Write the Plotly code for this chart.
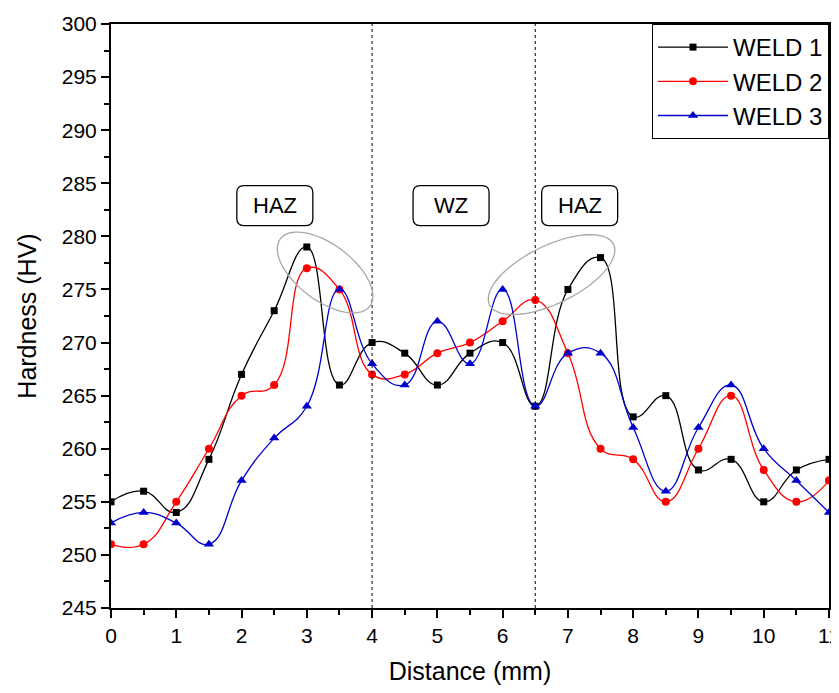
import math
import plotly.graph_objects as go

distance = [0, 0.5, 1, 1.5, 2, 2.5, 3, 3.5, 4, 4.5, 5, 5.5, 6, 6.5, 7, 7.5, 8, 8.5, 9, 9.5, 10, 10.5, 11]
weld1 = [255, 256, 254, 259, 267, 273, 279, 266, 270, 269, 266, 269, 270, 264, 275, 278, 263, 265, 258, 259, 255, 258, 259]
weld2 = [251, 251, 255, 260, 265, 266, 277, 275, 267, 267, 269, 270, 272, 274, 269, 260, 259, 255, 260, 265, 258, 255, 257]
weld3 = [253, 254, 253, 251, 257, 261, 264, 275, 268, 266, 272, 268, 275, 264, 269, 269, 262, 256, 262, 266, 260, 257, 254]

zone_bounds = [4, 6.5]
zone_labels = ["HAZ", "WZ", "HAZ"]
zone_label_x = [2.51, 5.21, 7.18]
zone_label_y = 282.9

# highlight ellipses: centre (data), semi-axes (px), tilt (deg)
ellipse_centres = [(3.28, 276.6), (6.75, 276.4)]
ellipse_axes = [(56, 28), (69, 29)]
ellipse_tilts = [-37, 26]

font_family = "Liberation Sans, Arial, sans-serif"

series = [
    ("WELD 1", weld1, "black", "square", 7),
    ("WELD 2", weld2, "red", "circle", 8),
    ("WELD 3", weld3, "#0000cc", "triangle-up", 9),
]

fig = go.Figure()
for name, vals, col, sym, sz in series:
    fig.add_trace(go.Scatter(
        x=distance, y=vals, name=name, mode="lines+markers",
        line=dict(color=col, width=1.3, shape="spline", smoothing=1.3),
        marker=dict(symbol=sym, size=sz, color=col),
    ))

shapes = []
for xb in zone_bounds:
    shapes.append(dict(type="line", xref="x", yref="y", x0=xb, x1=xb, y0=245, y1=300,
                       line=dict(color="black", width=1, dash="dot")))

def ellipse_path(a, b, tilt, n=72):
    th = math.radians(tilt)
    pts = []
    for i in range(n):
        t = 2 * math.pi * i / n
        ex, ey = a * math.cos(t), b * math.sin(t)
        px = ex * math.cos(th) - ey * math.sin(th)
        py = ex * math.sin(th) + ey * math.cos(th)
        pts.append(f"{px:.2f},{py:.2f}")
    return "M" + " L".join(pts) + " Z"

for (cx, cy), (a, b), tilt in zip(ellipse_centres, ellipse_axes, ellipse_tilts):
    shapes.append(dict(type="path", xref="x", yref="y", xsizemode="pixel", ysizemode="pixel",
                       xanchor=cx, yanchor=cy, path=ellipse_path(a, b, tilt),
                       line=dict(color="#a8a8a8", width=1.3)))

def rounded_rect(w, h, r):
    x0, x1, y0, y1 = -w / 2, w / 2, -h / 2, h / 2
    return (f"M{x0 + r},{y0} L{x1 - r},{y0} Q{x1},{y0} {x1},{y0 + r} L{x1},{y1 - r} "
            f"Q{x1},{y1} {x1 - r},{y1} L{x0 + r},{y1} Q{x0},{y1} {x0},{y1 - r} "
            f"L{x0},{y0 + r} Q{x0},{y0} {x0 + r},{y0} Z")

annotations = []
for lab, lx in zip(zone_labels, zone_label_x):
    shapes.append(dict(type="path", xref="x", yref="y", xsizemode="pixel", ysizemode="pixel",
                       xanchor=lx, yanchor=zone_label_y, path=rounded_rect(76, 40, 7),
                       line=dict(color="black", width=1.3), fillcolor="white", layer="below"))
    annotations.append(dict(x=lx, y=zone_label_y, xref="x", yref="y", text=lab, showarrow=False,
                            font=dict(family=font_family, size=22, color="black")))

axis_common = dict(showline=True, linecolor="black", linewidth=2, mirror=True, ticks="outside",
                   ticklen=8, tickwidth=1.5, tickcolor="black", showgrid=False, zeroline=False,
                   automargin=False,
                   tickfont=dict(family=font_family, size=21, color="black"))

# page body has an 8px margin: figure sized so plot lands where the reference has it
fig.update_layout(
    width=839, height=677,
    margin=dict(l=103, r=18, t=16, b=77),
    paper_bgcolor="white", plot_bgcolor="white",
    shapes=shapes, annotations=annotations,
    xaxis=dict(range=[0, 11], dtick=1, tick0=0,
               minor=dict(dtick=0.5, ticks="outside", ticklen=5, tickwidth=1.5, tickcolor="black"),
               title=dict(text="Distance (mm)", font=dict(family=font_family, size=25, color="black"), standoff=16),
               **axis_common),
    yaxis=dict(range=[245, 300], dtick=5, tick0=245,
               minor=dict(dtick=2.5, ticks="outside", ticklen=5, tickwidth=1.5, tickcolor="black"),
               title=dict(text="Hardness (HV)", font=dict(family=font_family, size=25, color="black"), standoff=18),
               **axis_common),
    legend=dict(x=1, y=1, xanchor="right", yanchor="top", bgcolor="white", bordercolor="black",
                borderwidth=1, font=dict(family=font_family, size=24, color="black"),
                itemwidth=70, tracegroupgap=0),
    showlegend=True,
)

fig.write_html("out.html")
